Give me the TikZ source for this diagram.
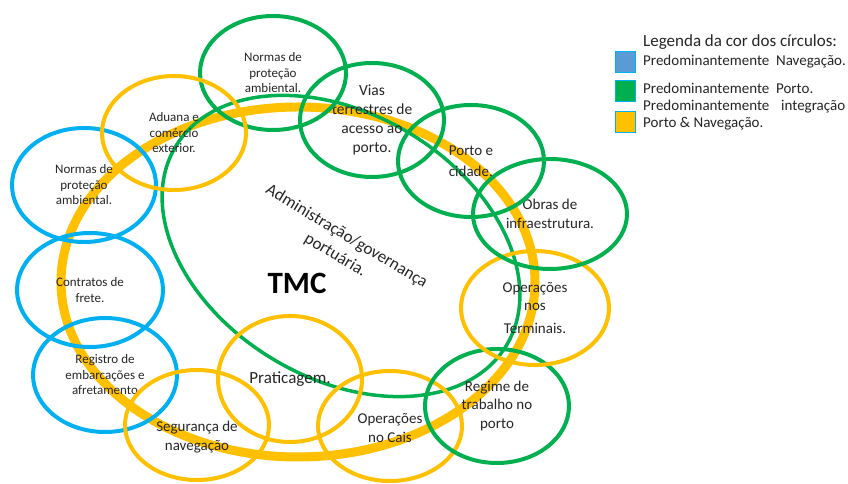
\documentclass[tikz,border=0pt]{standalone}
\usepackage{fontspec}
\setmainfont{Carlito}
\usetikzlibrary{shapes.geometric}
\definecolor{cblue}{RGB}{0,176,240}
\definecolor{cgreen}{RGB}{0,176,80}
\definecolor{cyel}{RGB}{255,192,0}
\definecolor{sblue}{RGB}{91,155,213}
\definecolor{txt}{RGB}{38,38,38}
\begin{document}
\begin{tikzpicture}[x=1pt,y=1pt,
  oval/.style={ellipse, draw, line width=4pt, inner sep=0pt, outer sep=0pt,
    minimum width=146pt, minimum height=114pt, align=center, text=txt},
  blueoval/.style={oval, draw=cblue},
  greenoval/.style={oval, draw=cgreen},
  yeloval/.style={oval, draw=cyel},
  fs/.style={font=\fontsize{13}{15.5}\selectfont},
  fm/.style={font=\fontsize{15}{18.5}\selectfont},
  lbl/.style={inner sep=0pt, align=center, text=txt},
  swatch/.style={draw=cblue, line width=1pt, minimum width=20pt, minimum height=21pt, inner sep=0pt},
  legtxt/.style={anchor=west, inner sep=0pt, text=txt, font=\fontsize{15}{16}\selectfont}
]
\useasboundingbox (0,0) rectangle (848,484);
\fill[white] (0,0) rectangle (848,484);

% big yellow ring
\node[ellipse, draw=cyel, line width=9pt, inner sep=0pt, outer sep=0pt,
  minimum width=474pt, minimum height=350pt] (ring) at (298,202) {};

% big green ellipse with administration text
\node[ellipse, draw=cgreen, line width=3.5pt, inner sep=0pt, outer sep=0pt,
  minimum width=386pt, minimum height=264pt, rotate=-31, align=center, text=txt,
  font=\fontsize{17}{22}\selectfont] (adm) at (341,238)
  {Administração/governança\\portuária.};

% small ovals
\node[blueoval, fs, minimum width=144pt] (nbl) at (84,299) {Normas de\\proteção\\ambiental.};
\node[blueoval, fs] (frete) at (90,194) {Contratos de\\frete.};
\node[blueoval, fs, minimum width=144pt] (reg) at (105,109) {Registro de\\embarcações e\\afretamento};
\node[yeloval, minimum width=144pt, minimum height=110pt] (seg) at (197,59) {};
\node[lbl, fm] (segt) at ([yshift=-12pt]seg.center) {Segurança de\\navegação};
\node[yeloval, minimum width=144pt, minimum height=126pt,
  font=\fontsize{17}{20}\selectfont] (prat) at (290,105) {Praticagem.};
\node[yeloval, fm, minimum width=144pt, minimum height=110pt] (cais) at (390,58) {\\[-4pt]Operações\\no Cais};
\node[greenoval, fm, minimum width=144pt] (regime) at (497,78) {Regime de\\trabalho no\\porto};
\node[yeloval, fm, minimum width=148pt] (term) at (535,176) {Operações\\nos\\[4pt]Terminais.};
\node[greenoval, fm, minimum width=154pt, minimum height=110pt] (obras) at (550,270) {Obras de\\infraestrutura.};
\node[greenoval, minimum height=112pt] (cid) at (471,323) {};
\node[lbl, fm, align=left, font=\fontsize{15}{21}\selectfont] (cidt) at (cid.center) {Porto e\\cidade.};
\node[greenoval, minimum width=144pt, font=\fontsize{15.5}{19}\selectfont] (vias) at (372,364) {Vias\\terrestres de\\acesso ao\\porto.};
\node[greenoval, fs] (ngr) at (273,411) {Normas de\\proteção\\ambiental.};
\node[yeloval, fs, minimum width=144pt] (adu) at (174,351) {Aduana e\\comércio\\exterior.};

% centre label
\node[lbl, font=\bfseries\fontsize{31}{34}\selectfont, text=black] (tmc) at (297,201) {TMC};

% legend
\node[inner sep=0pt, anchor=west, text=txt, font=\fontsize{17}{18}\selectfont] (legtitle) at (643,442) {Legenda da cor dos círculos:};
\node[swatch, fill=sblue] (swb) at (625.5,422) {};
\node[swatch, fill=cgreen] (swg) at (625.5,393) {};
\node[swatch, fill=cyel] (swy) at (625.5,361.5) {};
\node[legtxt] (lb) at (643,422) {Predominantemente\ \ Navegação.};
\node[legtxt] (lg) at (643,396) {Predominantemente\ \ Porto.};
\node[legtxt, align=left, font=\fontsize{15}{16.5}\selectfont] (ly) at (643,369)
  {\makebox[202pt][l]{Predominantemente\hfill integração}\\Porto \& Navegação.};
\end{tikzpicture}
\end{document}
